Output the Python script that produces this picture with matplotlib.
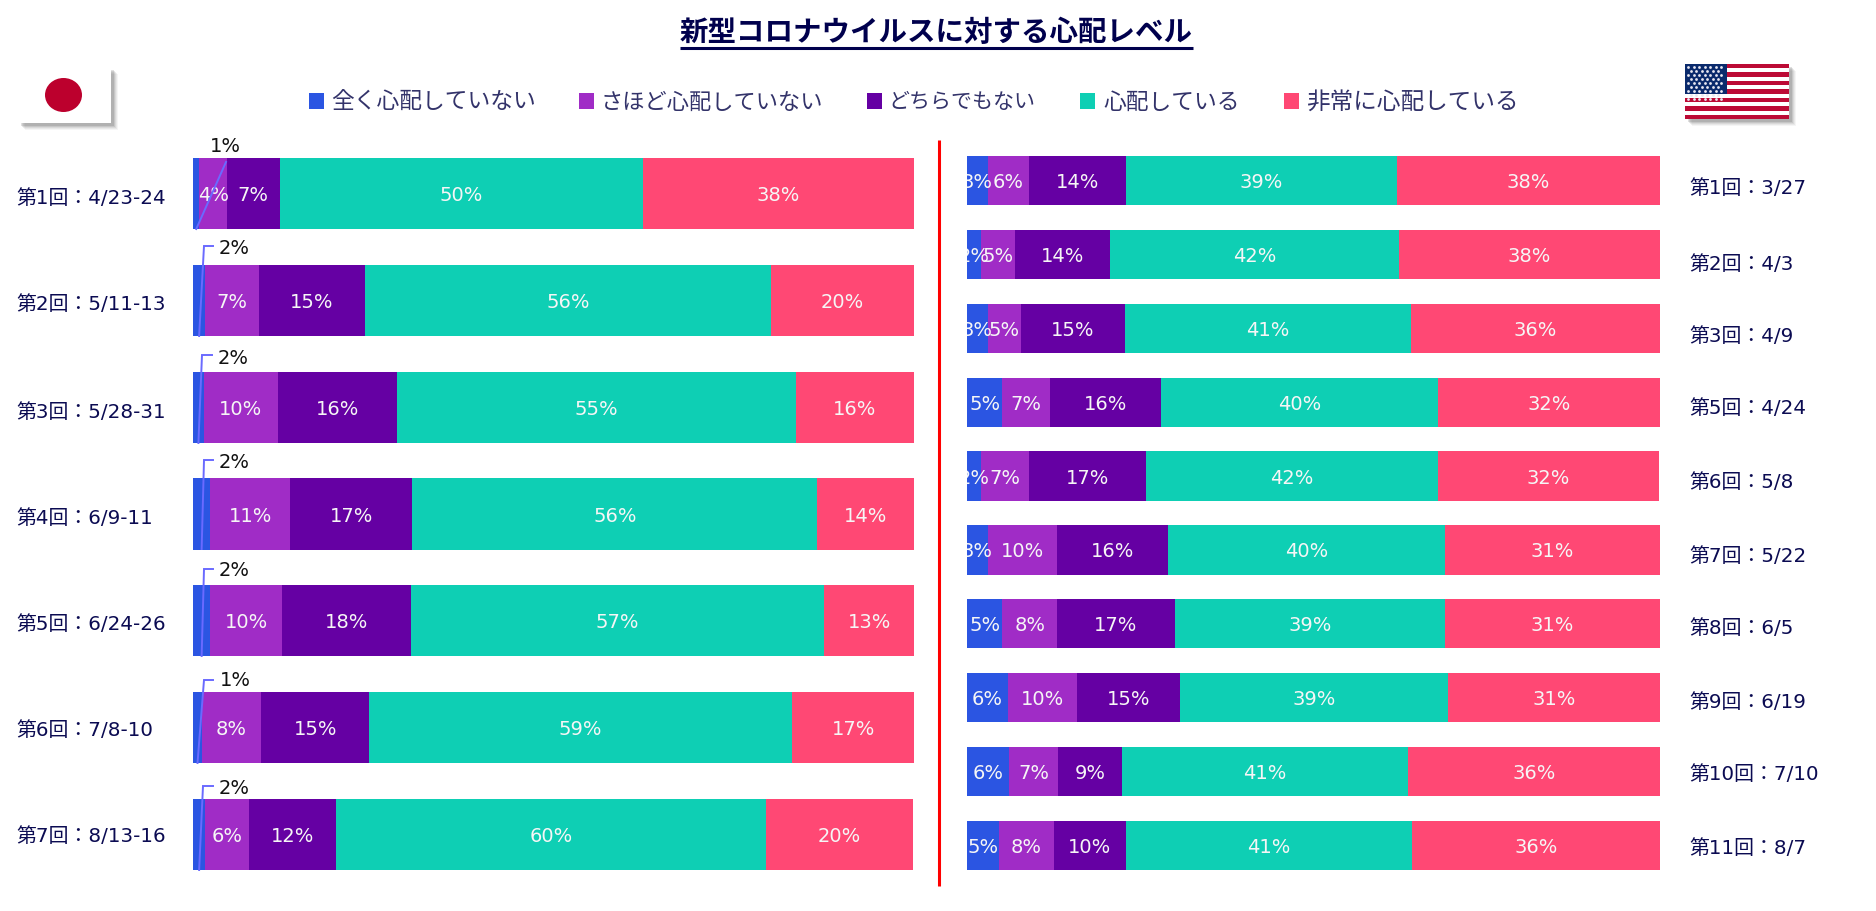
import matplotlib
matplotlib.use("Agg")
import matplotlib.pyplot as plt
from matplotlib.patches import Rectangle, Ellipse
from matplotlib.transforms import offset_copy

FAMILY = ['DejaVu Sans', 'Noto Sans CJK JP']
CJK = ['Noto Sans CJK JP', 'DejaVu Sans']
plt.rcParams['font.family'] = FAMILY

TITLE = '新型コロナウイルスに対する心配レベル'
LEVELS = ['全く心配していない', 'さほど心配していない', 'どちらでもない', '心配している', '非常に心配している']
COLORS = ['#2B55E2', '#A02CC6', '#6500A3', '#0ECFB4', '#FF4874']

JP_ROUNDS = ['第1回：4/23-24', '第2回：5/11-13', '第3回：5/28-31', '第4回：6/9-11',
             '第5回：6/24-26', '第6回：7/8-10', '第7回：8/13-16']
JP_NOT_AT_ALL = [0.9, 1.7, 1.5, 2.4, 2.4, 1.25, 1.7]
JP_NOT_VERY = [3.8, 7.4, 10.3, 11.1, 10.0, 8.2, 6.1]
JP_NEUTRAL = [7.3, 14.7, 16.5, 16.9, 17.8, 15.0, 12.1]
JP_WORRIED = [50.4, 56.4, 55.3, 56.2, 57.3, 58.6, 59.6]
JP_VERY = [37.6, 19.8, 16.4, 13.5, 12.6, 17.0, 20.4]

US_ROUNDS = ['第1回：3/27', '第2回：4/3', '第3回：4/9', '第5回：4/24', '第6回：5/8',
             '第7回：5/22', '第8回：6/5', '第9回：6/19', '第10回：7/10', '第11回：8/7']
US_NOT_AT_ALL = [3.0, 2.0, 3.0, 5.1, 2.0, 3.0, 5.1, 5.9, 6.1, 4.6]
US_NOT_VERY = [5.9, 4.9, 4.8, 6.9, 6.9, 10.0, 7.9, 10.0, 7.1, 7.9]
US_NEUTRAL = [14.0, 13.8, 15.0, 16.0, 17.0, 16.0, 17.0, 14.9, 9.1, 10.4]
US_WORRIED = [39.1, 41.6, 41.2, 40.0, 42.0, 40.0, 39.0, 38.6, 41.4, 41.3]
US_VERY = [38.0, 37.7, 36.0, 32.0, 32.0, 31.0, 31.0, 30.6, 36.4, 35.8]

JP_SERIES = [JP_NOT_AT_ALL, JP_NOT_VERY, JP_NEUTRAL, JP_WORRIED, JP_VERY]
US_SERIES = [US_NOT_AT_ALL, US_NOT_VERY, US_NEUTRAL, US_WORRIED, US_VERY]

W, H = 1876, 911
fig = plt.figure(figsize=(W / 100, H / 100), dpi=100, facecolor='white')


def box(x0, x1, y0, y1):
    return [x0 / W, 1 - y1 / H, (x1 - x0) / W, (y1 - y0) / H]


def stacked(rect, series, bar_h):
    ax = fig.add_axes(box(*rect))
    n = len(series[0])
    ax.set_xlim(0, 100)
    ax.set_ylim(n - 1 + bar_h / 2, -bar_h / 2)
    ax.axis('off')
    left = [0.0] * n
    for values, color in zip(series, COLORS):
        ax.barh(range(n), values, height=bar_h, left=left, color=color, linewidth=0)
        left = [a + b for a, b in zip(left, values)]
    return ax


ax_jp = stacked((193, 914, 158, 870), JP_SERIES, 0.6646)
ax_us = stacked((967, 1660, 156, 870), US_SERIES, 0.67)

NAVY = '#0B0B52'
ov = fig.add_axes([0, 0, 1, 1], zorder=5)
ov.set_xlim(0, W)
ov.set_ylim(H, 0)
ov.axis('off')

# percentage labels inside the bars (clipped at the axes edge as in the source)
for ax, series, skip_first in ((ax_jp, JP_SERIES, True), (ax_us, US_SERIES, False)):
    n = len(series[0])
    left = [0.0] * n
    shifted = offset_copy(ax.transData, fig=fig, x=0, y=-2, units='dots')
    for k, values in enumerate(series):
        for i, v in enumerate(values):
            if not (skip_first and k == 0):
                ax.text(left[i] + v / 2, i, f'{round(v)}%', color='#F6F6F6', fontsize=14,
                        ha='center', va='center', clip_on=True, zorder=4, transform=shifted)
        left = [a + b for a, b in zip(left, values)]

# leader lines of the small Japanese segments
JP_BOTTOMS = [229, 336, 443, 549, 656, 763, 870]
ELBOW_X = [226, 204, 202, 204, 204, 204, 203]
ELBOW_Y = [162, 246, 355, 460, 569, 680, 786]
STUB_X = [226, 213, 212, 213, 213, 213, 213]
LBL_X = [225, 234, 233, 234, 234, 235, 234]
LBL_Y = [146, 249, 358, 462, 570, 681, 788]
for i, v in enumerate(JP_NOT_AT_ALL):
    base = 193 + 721 * v / 200
    ov.plot([base, ELBOW_X[i], STUB_X[i]], [JP_BOTTOMS[i], ELBOW_Y[i], ELBOW_Y[i]],
            color='#6A6AFF', lw=1.4, solid_joinstyle='miter')
    ov.text(LBL_X[i], LBL_Y[i], f'{round(v)}%', color='#111111', fontsize=14,
            ha='center', va='center')

# round labels
JP_LBL_Y = [199, 305, 412, 518, 625, 731, 837]
US_LBL_Y = [189, 264, 336, 409, 483, 557, 629, 703, 775, 849]
for s, y in zip(JP_ROUNDS, JP_LBL_Y):
    ov.text(16, y, s, color=NAVY, fontsize=14.3, ha='left', va='center')
for s, y in zip(US_ROUNDS, US_LBL_Y):
    ov.text(1689, y, s, color=NAVY, fontsize=14.3, ha='left', va='center')

# title
ov.text(936.5, 32.5, TITLE, family=CJK, fontweight='bold', fontsize=20.5, color='#00004D',
        ha='center', va='center')
ov.plot([680, 1193], [48, 48], color='#00004D', lw=2.2, solid_capstyle='butt')

# legend
LEG_SQ = [309, 578.5, 867, 1080, 1284]
LEG_TXT = [331, 600.7, 888, 1103, 1306.5]
LEG_FS = [16.4, 16.0, 15.1, 16.4, 17.0]
for name, c, sx, tx, fs in zip(LEVELS, COLORS, LEG_SQ, LEG_TXT, LEG_FS):
    ov.add_patch(Rectangle((sx, 93), 15, 16, facecolor=c, edgecolor='none'))
    ov.text(tx, 102.5, name, family=CJK, fontsize=fs, color='#33336A', ha='left', va='center')

# divider
ov.plot([938.5, 938.5], [140, 886], color='#FF0000', lw=2.2, solid_capstyle='butt')


def shadow(x0, y0, x1, y1):
    for off, a in ((7, .06), (6, .08), (5, .10), (4, .14), (3, .18)):
        ov.add_patch(Rectangle((x0 + off, y0 + off), x1 - x0, y1 - y0,
                               facecolor='#555555', alpha=a, edgecolor='none', zorder=1))


# Japanese flag
shadow(18, 67, 111, 123)
ov.add_patch(Rectangle((18, 67), 93, 56, facecolor='white', edgecolor='none', zorder=2))
ov.add_patch(Ellipse((63.5, 95), 37, 34, facecolor='#BC002D', edgecolor='none', zorder=3))

# US flag
fx0, fx1, fy0, fy1 = 1685, 1789, 64, 119
shadow(fx0, fy0, fx1, fy1)
ov.add_patch(Rectangle((fx0, fy0), fx1 - fx0, fy1 - fy0, facecolor='white', edgecolor='none', zorder=2))
sh = (fy1 - fy0) / 13
for s in range(0, 13, 2):
    ov.add_patch(Rectangle((fx0, fy0 + s * sh), fx1 - fx0, sh, facecolor='#BC0A35',
                           edgecolor='none', zorder=3))
ov.add_patch(Rectangle((fx0, fy0), 42, 7 * sh, facecolor='#0A2A6C', edgecolor='none', zorder=4))
sx, sy = [], []
for r in range(9):
    cols = 7 if r % 2 == 0 else 6
    for c in range(cols):
        sx.append(fx0 + 3.0 + (0 if r % 2 == 0 else 2.8) + c * 5.5)
        sy.append(fy0 + 3.0 + r * 3.95)
ov.scatter(sx, sy, s=4, color='#E8E8F2', linewidths=0, zorder=5)

fig.savefig('out.png', dpi=100, facecolor='white')
